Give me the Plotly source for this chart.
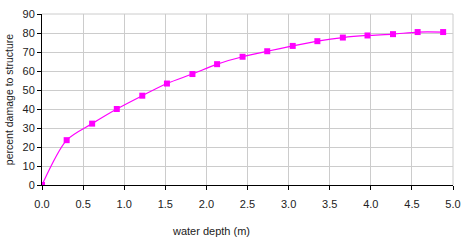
import plotly.graph_objects as go

depth_m = [0.0, 0.30, 0.61, 0.91, 1.22, 1.52, 1.83, 2.13, 2.44, 2.74, 3.05, 3.35, 3.66, 3.96, 4.27, 4.57, 4.88]
damage_pct = [0, 23.6, 32.3, 40.0, 47.0, 53.4, 58.4, 63.6, 67.5, 70.4, 73.2, 75.7, 77.6, 78.7, 79.4, 80.5, 80.5]
x_ticks = [0.0, 0.5, 1.0, 1.5, 2.0, 2.5, 3.0, 3.5, 4.0, 4.5, 5.0]
y_ticks = [0, 10, 20, 30, 40, 50, 60, 70, 80, 90]

fig = go.Figure()
fig.add_trace(go.Scatter(
    x=depth_m, y=damage_pct, mode="lines+markers",
    line=dict(color="#FF00FF", width=1.2, shape="spline", smoothing=0.8),
    marker=dict(symbol="square", size=6, color="#FF00FF"),
    showlegend=False,
))

tick_font = dict(family="Liberation Sans, Arial, sans-serif", size=11, color="#222222")
title_font = dict(family="Liberation Sans, Arial, sans-serif", size=10.5, color="#222222")
fig.update_layout(
    width=469, height=240,
    margin=dict(l=42, r=13, t=8, b=55),
    paper_bgcolor="white", plot_bgcolor="white",
    font=tick_font,
    xaxis=dict(
        range=[0, 5], tickvals=x_ticks, ticktext=[f"{v:.1f}" for v in x_ticks],
        showgrid=True, gridcolor="#cccccc", gridwidth=1,
        showline=True, linecolor="black", linewidth=1, mirror=False,
        ticks="outside", ticklen=4, tickcolor="black", zeroline=False,
        tickfont=tick_font, ticklabelstandoff=5,
    ),
    yaxis=dict(
        range=[0, 90], tickvals=y_ticks,
        showgrid=True, gridcolor="#cccccc", gridwidth=1,
        showline=True, linecolor="black", linewidth=1,
        ticks="outside", ticklen=4, tickcolor="black", zeroline=False,
        tickfont=tick_font,
        title=dict(text="percent damage to structure", font=title_font, standoff=6),
    ),
    shapes=[
        dict(type="line", xref="paper", yref="paper", x0=0, x1=1, y0=1, y1=1, line=dict(color="#cccccc", width=1)),
        dict(type="line", xref="paper", yref="paper", x0=1, x1=1, y0=0, y1=1, line=dict(color="#cccccc", width=1)),
    ],
    annotations=[dict(
        text="water depth (m)", xref="paper", yref="paper", x=0.41, y=0, yshift=-38,
        xanchor="center", yanchor="top", showarrow=False,
        font=dict(family="Liberation Sans, Arial, sans-serif", size=11, color="#222222"),
    )],
)
fig.write_html("out.html")
